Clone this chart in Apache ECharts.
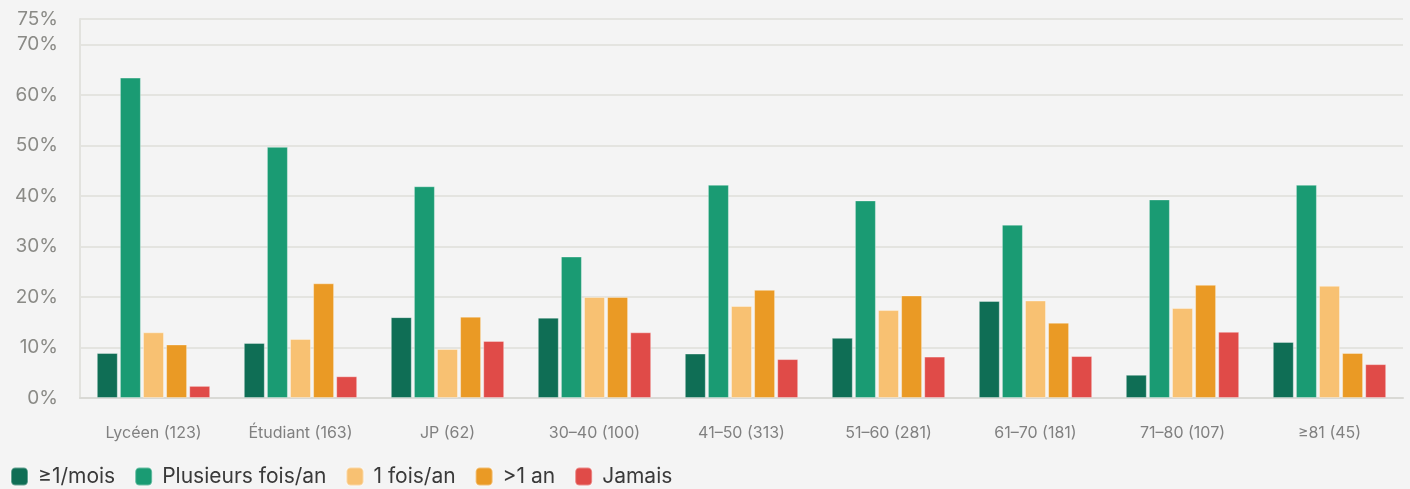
<!DOCTYPE html>
<html>
<head>
<meta charset="utf-8">
<script src="https://cdn.jsdelivr.net/npm/echarts@6/dist/echarts.min.js"></script>
<style>
  html, body { margin: 0; padding: 0; background: #f4f4f4; }
  #chart { width: 1410px; height: 489px; }
</style>
</head>
<body>
<div id="chart"></div>
<script>
// Categories (groupe, effectif)
const categories = ['Lycéen (123)', 'Étudiant (163)', 'JP (62)', '30–40 (100)', '41–50 (313)', '51–60 (281)', '61–70 (181)', '71–80 (107)', '≥81 (45)'];

// Share of respondents per frequency, in %
const auMoinsMensuel = [8.9, 10.9, 16.0, 15.9, 8.8, 11.9, 19.2, 4.6, 11.1];
const plusieursFoisAn = [63.4, 49.7, 41.9, 28.0, 42.2, 39.1, 34.3, 39.3, 42.2];
const uneFoisAn = [13.0, 11.7, 9.7, 20.0, 18.2, 17.4, 19.3, 17.8, 22.2];
const plusDunAn = [10.6, 22.7, 16.1, 20.0, 21.4, 20.3, 14.9, 22.4, 8.9];
const jamais = [2.4, 4.3, 11.3, 13.0, 7.7, 8.2, 8.3, 13.1, 6.7];

const seriesNames = ['≥1/mois', 'Plusieurs fois/an', '1 fois/an', '>1 an', 'Jamais'];
const seriesColors = ['#0f6e55', '#1a9b73', '#f8c172', '#ea9a25', '#e04b48'];
const seriesData = [auMoinsMensuel, plusieursFoisAn, uneFoisAn, plusDunAn, jamais];

const chart = echarts.init(document.getElementById('chart'), null, { renderer: 'canvas' });

const font = 'Inter, "Liberation Sans", sans-serif';

chart.setOption({
  backgroundColor: '#f4f4f4',
  animation: false,
  grid: { left: 80, right: 7, top: 19, bottom: 91, containLabel: false },
  legend: {
    left: 10,
    top: 466,
    padding: 0,
    itemWidth: 17,
    itemHeight: 18,
    itemGap: 19,
    icon: 'roundRect',
    textStyle: { fontFamily: font, fontSize: 21, color: '#3a3a3a', padding: [0, 0, 0, 5] },
    data: seriesNames
  },
  xAxis: {
    type: 'category',
    data: categories,
    axisLine: { show: true, lineStyle: { color: '#d9d9d5', width: 2 } },
    axisTick: { show: false },
    axisLabel: { fontFamily: font, fontSize: 16, color: '#808080', margin: 27 }
  },
  yAxis: {
    type: 'value',
    min: 0,
    max: 75,
    interval: 10,
    axisLine: { show: true, lineStyle: { color: '#e2e2de', width: 2 } },
    axisTick: { show: false },
    splitLine: { lineStyle: { color: '#e4e4e0', width: 2 } },
    axisLabel: {
      fontFamily: font, fontSize: 19, color: '#8a8a86', margin: 22,
      formatter: v => v + '%'
    }
  },
  series: seriesNames.map((name, i) => ({
    name,
    type: 'bar',
    data: seriesData[i],
    barWidth: 21,
    barGap: '10%',
    itemStyle: {
      color: seriesColors[i],
      borderColor: 'rgba(255,255,255,0.35)',
      borderWidth: 1
    }
  }))
});
</script>
</body>
</html>
